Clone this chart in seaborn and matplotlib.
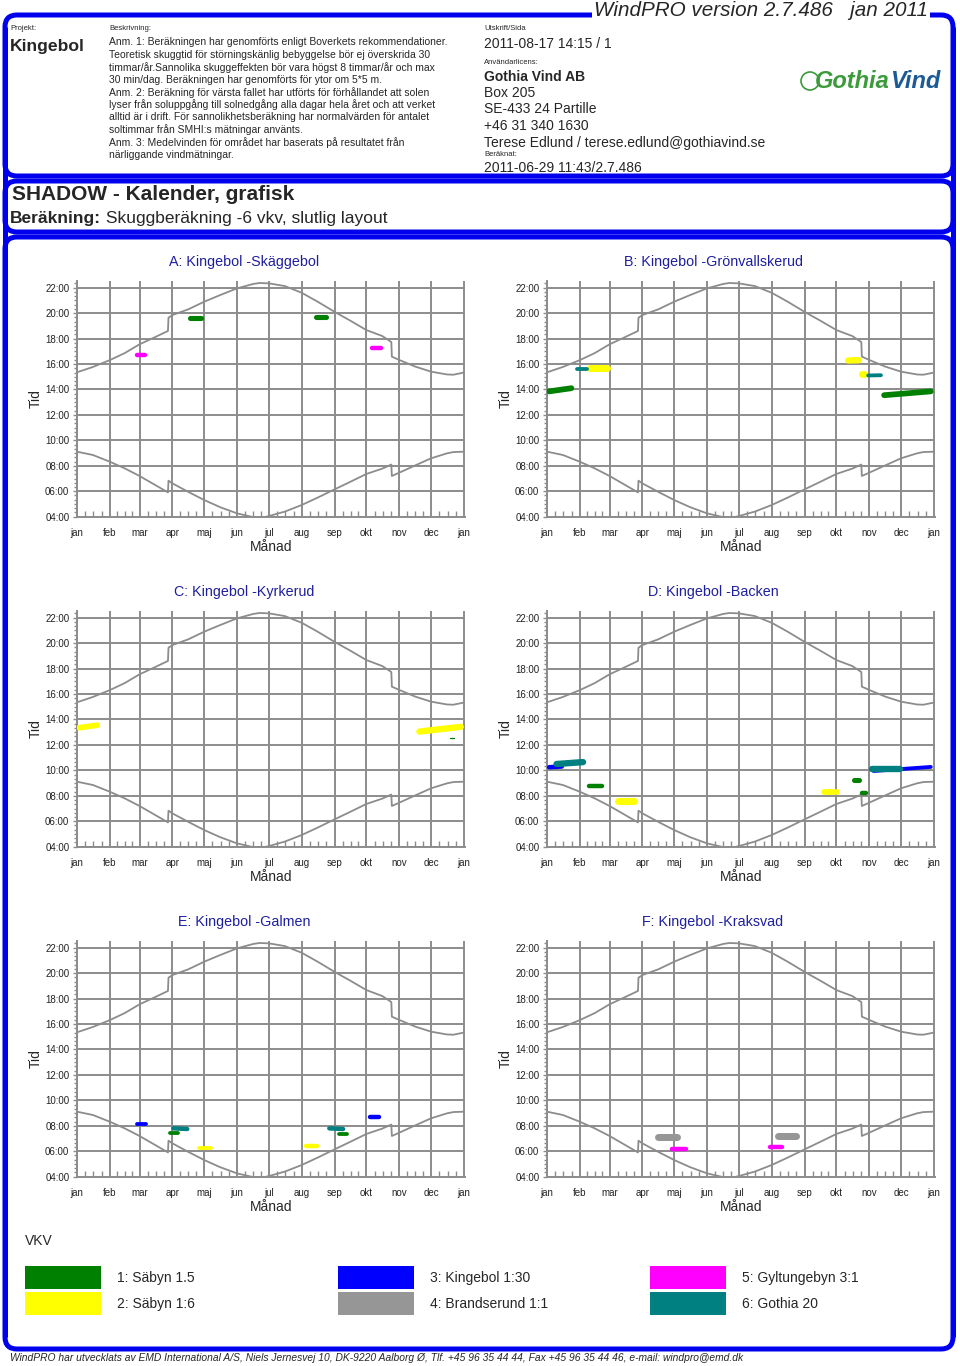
import matplotlib
matplotlib.use('Agg')
import matplotlib.pyplot as plt
from matplotlib.patches import FancyBboxPatch, Rectangle, Circle
from matplotlib.ticker import MultipleLocator, FixedLocator
import seaborn as sns

# months on the x axis (day of year)
month_names = ['jan', 'feb', 'mar', 'apr', 'maj', 'jun', 'jul', 'aug', 'sep', 'okt', 'nov', 'dec', 'jan']
month_starts = [0, 31, 59, 90, 120, 151, 181, 212, 243, 273, 304, 334, 365]

# sunrise / sunset (hours, local time incl. summer time jumps)
sun_days = [0, 15, 31, 45, 59, 74, 85.8, 86.3, 90, 105, 120, 135, 151, 166, 172,
            181, 196, 212, 227, 243, 258, 273, 288, 296.5, 297, 304, 319, 334, 349, 355, 365]
sunset = [15.35, 15.77, 16.31, 16.86, 17.55, 18.13, 18.6, 19.64, 19.85, 20.3, 20.9, 21.42, 21.95, 22.29, 22.37,
          22.34, 22.13, 21.6, 20.9, 20.1, 19.4, 18.67, 18.2, 17.73, 16.58, 16.32, 15.8, 15.4, 15.18, 15.16, 15.33]
sunrise = [9.11, 8.85, 8.32, 7.8, 7.2, 6.48, 5.91, 6.83, 6.62, 5.95, 5.31, 4.75, 4.26, 3.97, 3.88,
           4.05, 4.4, 4.92, 5.5, 6.15, 6.75, 7.36, 7.78, 8.1, 7.2, 7.46, 8.03, 8.59, 8.98, 9.08, 9.11]

# turbines (VKV)
vkv_names = ['1: Säbyn 1.5', '2: Säbyn 1:6', '3: Kingebol 1:30',
             '4: Brandserund 1:1', '5: Gyltungebyn 3:1', '6: Gothia 20']
vkv_colors = ['#008000', '#ffff00', '#0000ff', '#969696', '#ff00ff', '#008080']

# shadow periods: (vkv, first day, last day, time at first day, time at last day, spread in hours)
shadow_a = [(1, 107, 117, 19.6, 19.6, 0.4), (1, 225, 235, 19.7, 19.7, 0.4),
            (5, 57, 64, 16.68, 16.68, 0.35), (5, 278, 287, 17.27, 17.27, 0.35)]
shadow_b = [(1, 2, 23, 13.85, 14.1, 0.45), (1, 318, 362, 13.55, 13.85, 0.45),
            (2, 41, 57, 15.72, 15.72, 0.55), (2, 284, 294, 16.28, 16.3, 0.5), (2, 297, 299, 15.2, 15.2, 0.55),
            (6, 28, 38, 15.62, 15.62, 0.3), (6, 303, 315, 15.1, 15.12, 0.3)]
shadow_c = [(1, 352, 356, 12.52, 12.52, 0.1),
            (2, 2, 19, 13.35, 13.55, 0.45), (2, 323, 362, 13.05, 13.42, 0.5)]
shadow_d = [(1, 40, 52, 8.74, 8.74, 0.35), (1, 290, 294, 9.24, 9.24, 0.4), (1, 297, 301, 8.24, 8.24, 0.35),
            (2, 67, 82, 7.56, 7.56, 0.55), (2, 261, 274, 8.3, 8.3, 0.45),
            (3, 2, 14, 10.25, 10.3, 0.35), (3, 308, 362, 9.95, 10.27, 0.3),
            (6, 9, 34, 10.5, 10.65, 0.5), (6, 307, 333, 10.14, 10.14, 0.5)]
shadow_e = [(1, 88, 95, 7.46, 7.46, 0.3), (1, 247, 255, 7.35, 7.35, 0.3),
            (2, 115, 126, 6.25, 6.25, 0.3), (2, 216, 226, 6.39, 6.39, 0.35),
            (3, 57, 65, 8.13, 8.13, 0.3), (3, 276, 285, 8.66, 8.66, 0.35),
            (6, 91, 104, 7.8, 7.75, 0.35), (6, 238, 251, 7.8, 7.75, 0.35)]
shadow_f = [(4, 105, 123, 7.11, 7.11, 0.55), (4, 218, 235, 7.2, 7.2, 0.55),
            (5, 118, 131, 6.21, 6.21, 0.35), (5, 210, 222, 6.34, 6.34, 0.35)]

panel_titles = ['A: Kingebol -Skäggebol', 'B: Kingebol -Grönvallskerud', 'C: Kingebol -Kyrkerud',
                'D: Kingebol -Backen', 'E: Kingebol -Galmen', 'F: Kingebol -Kraksvad']
panel_shadows = [shadow_a, shadow_b, shadow_c, shadow_d, shadow_e, shadow_f]

description = [
    'Anm. 1: Beräkningen har genomförts enligt Boverkets rekommendationer.',
    'Teoretisk skuggtid för störningskänlig bebyggelse bör ej överskrida 30',
    'timmar/år.Sannolika skuggeffekten bör vara högst 8 timmar/år och max',
    '30 min/dag. Beräkningen har genomförts för ytor om 5*5 m.',
    'Anm. 2: Beräkning för värsta fallet har utförts för förhållandet att solen',
    'lyser från soluppgång till solnedgång alla dagar hela året och att verket',
    'alltid är i drift. För sannolikhetsberäkning har normalvärden för antalet',
    'soltimmar från SMHI:s mätningar använts.',
    'Anm. 3: Medelvinden för området har baserats på resultatet från',
    'närliggande vindmätningar.',
]

sns.set_theme(style='white')
plt.rcParams['font.family'] = ['Liberation Sans', 'DejaVu Sans']

W, H = 960, 1366
fig = plt.figure(figsize=(9.6, 13.66), dpi=100)
fig.patch.set_facecolor('white')
bg = fig.add_axes([0, 0, 1, 1])
bg.set_xlim(0, W)
bg.set_ylim(H, 0)
bg.axis('off')

blue = '#0000ee'
grey = '#8c8c8c'

# frames
for y0, y1 in [(15, 176), (181, 232), (237, 1349)]:
    bg.add_patch(FancyBboxPatch((5, y0), 948, y1 - y0, boxstyle='round,pad=0,rounding_size=12',
                                fc='none', ec=blue, lw=3.6))
bg.plot([5, 5], [27, 1337], color=blue, lw=3.6, solid_capstyle='butt')
bg.plot([953, 953], [27, 1337], color=blue, lw=3.6, solid_capstyle='butt')

bg.text(928, 11, 'WindPRO version 2.7.486   jan 2011', ha='right', va='center', style='italic',
        fontsize=14.9, bbox=dict(fc='white', ec='none', pad=1.5))

# header left
bg.text(10, 29, 'Projekt:', fontsize=5.5, va='center')
bg.text(10, 47, 'Kingebol', fontsize=12.6, weight='bold', va='center')
bg.text(109, 29, 'Beskrivning:', fontsize=5.5, va='center')
for i, line in enumerate(description):
    bg.text(109, 42.3 + i * 12.52, line, fontsize=7.5, va='center')

# header right
bg.text(484, 29, 'Utskrift/Sida', fontsize=5.5, va='center')
bg.text(484, 43.5, '2011-08-17 14:15 / 1', fontsize=10, va='center')
bg.text(484, 62, 'Användarlicens:', fontsize=5.5, va='center')
bg.text(484, 76.7, 'Gothia Vind AB', fontsize=10, weight='bold', va='center')
bg.text(484, 92.7, 'Box 205', fontsize=10, va='center')
bg.text(484, 109.3, 'SE-433 24 Partille', fontsize=10, va='center')
bg.text(484, 126, '+46 31 340 1630', fontsize=10, va='center')
bg.text(484, 143.3, 'Terese Edlund / terese.edlund@gothiavind.se', fontsize=10, va='center')
bg.text(484, 155, 'Beräknat:', fontsize=5.5, va='center')
bg.text(484, 168.5, '2011-06-29 11:43/2.7.486', fontsize=10, va='center')

# logo
bg.add_patch(Circle((810, 81), 9, fc='none', ec='#3b9b3b', lw=1.2))
bg.text(890, 82, 'Gothia', ha='right', va='center', fontsize=17, weight='heavy', style='italic', color='#3b9b3b')
bg.text(890, 82, 'Vind', ha='left', va='center', fontsize=17, weight='heavy', style='italic', color='#1c5a96')

# title box
bg.text(12, 195, 'SHADOW - Kalender, grafisk', fontsize=15, weight='bold', va='center')
bg.text(10, 218.5, 'Beräkning:', fontsize=12.5, weight='bold', va='center')
bg.text(101, 218.5, ' Skuggberäkning -6 vkv, slutlig layout', fontsize=12.5, va='center')

# minor x ticks: quarter months
minor_days = []
for m in range(12):
    a, b = month_starts[m], month_starts[m + 1]
    minor_days += [a + (b - a) * k / 4 for k in (1, 2, 3)]

px_per_hour = 236 / (22.55 - 4)

lefts = [77, 547]
bottoms = [516.7, 846.7, 1176.7]
title_x = [244, 713]
title_y = [262, 592, 922]

for i, (title, shadows) in enumerate(zip(panel_titles, panel_shadows)):
    col, row = i % 2, i // 2
    ax = fig.add_axes([lefts[col] / W, 1 - bottoms[row] / H, 388 / W, 236 / H])
    ax.set_facecolor('none')
    ax.set_xlim(0, 366)
    ax.set_ylim(4, 22.55)

    sns.lineplot(x=sun_days, y=sunset, ax=ax, color=grey, lw=1.3, estimator=None, sort=False)
    sns.lineplot(x=sun_days, y=sunrise, ax=ax, color=grey, lw=1.3, estimator=None, sort=False)

    for vkv, d0, d1, t0, t1, spread in sorted(shadows, key=lambda s: s[0]):
        ax.plot([d0, d1], [t0, t1], color=vkv_colors[vkv - 1], lw=spread * px_per_hour * 0.72,
                solid_capstyle='round', zorder=3)

    ax.set_xticks(month_starts)
    ax.set_xticklabels(month_names)
    ax.xaxis.set_minor_locator(FixedLocator(minor_days))
    ax.set_yticks(range(4, 23, 2))
    ax.set_yticklabels([f'{h:02d}:00' for h in range(4, 23, 2)])
    ax.yaxis.set_minor_locator(MultipleLocator(1 / 3))
    ax.grid(True, which='major', color=grey, lw=1.4)
    ax.set_axisbelow(True)
    ax.tick_params(axis='x', which='major', length=0, pad=8, labelsize=7, labelcolor='#222222')
    ax.tick_params(axis='x', which='minor', direction='in', length=4, width=1, color=grey, bottom=True)
    ax.tick_params(axis='y', which='major', length=3, width=1, color=grey, pad=2.5, labelsize=7,
                   labelcolor='#222222', left=True)
    ax.tick_params(axis='y', which='minor', length=2, width=1, color=grey, left=True)
    for side in ['top', 'right']:
        ax.spines[side].set_visible(False)
    for side in ['left', 'bottom']:
        ax.spines[side].set_color(grey)
        ax.spines[side].set_linewidth(1.4)

    ax.set_xlabel('Månad', fontsize=10)
    ax.xaxis.set_label_coords(0.5, -(540 - 516.7) / 236)
    ax.set_ylabel('Tid', fontsize=10)
    ax.yaxis.set_label_coords(-(77 - 43) / 388, 0.5)

    bg.text(title_x[col], title_y[row], title, ha='center', va='center', fontsize=10.3, color='#1e1ea0')

# legend
bg.text(25, 1241, 'VKV', fontsize=10, va='center')
leg_x = [25, 338, 650]
leg_y = [1266, 1292]
for k, (name, color) in enumerate(zip(vkv_names, vkv_colors)):
    cx, cy = leg_x[k // 2], leg_y[k % 2]
    bg.add_patch(Rectangle((cx, cy), 76, 23, fc=color, ec='none'))
    bg.text(cx + 92, cy + 12, name, fontsize=10, va='center')

bg.text(10, 1358, 'WindPRO har utvecklats av EMD International A/S, Niels Jernesvej 10, DK-9220 Aalborg Ø, '
        'Tlf. +45 96 35 44 44, Fax +45 96 35 44 46, e-mail: windpro@emd.dk',
        fontsize=7.4, style='italic', va='center')

fig.savefig('out.png', dpi=100, facecolor='white')
